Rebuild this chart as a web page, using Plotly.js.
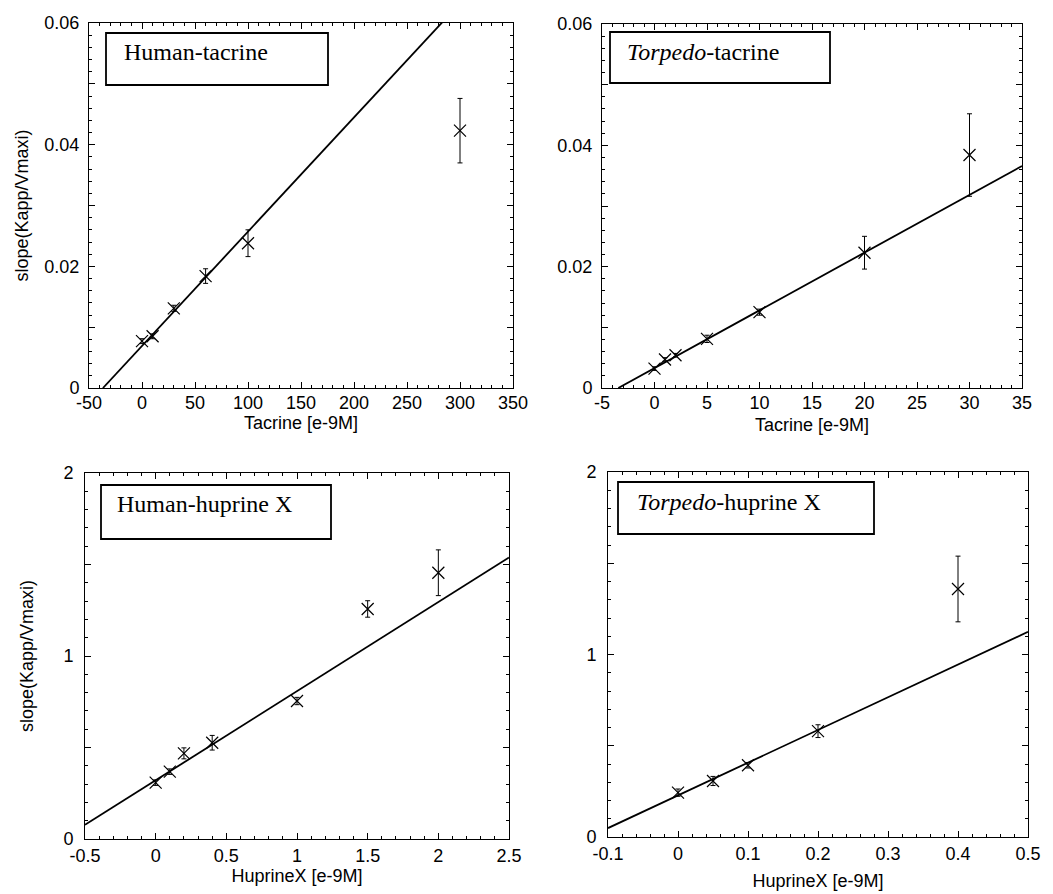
<!DOCTYPE html>
<html><head><meta charset="utf-8">
<script src="https://cdn.plot.ly/plotly-3.0.1.min.js"></script>
<style>html,body{margin:0;padding:0;background:#fff}</style>
</head><body><div id="chart" style="width:1053px;height:894px"></div>
<script>
// ---- Data ----
// Panel 1: Human-tacrine
const humTacX = [0, 10, 30, 60, 100, 300];
const humTacY = [0.0077, 0.0085, 0.0131, 0.0184, 0.0238, 0.0423];
const humTacErr = [0.0004, 0.0004, 0.0005, 0.0012, 0.0022, 0.0053];
// Panel 2: Torpedo-tacrine
const torTacX = [0, 1, 2, 5, 10, 20, 30];
const torTacY = [0.0032, 0.0047, 0.0054, 0.0081, 0.0125, 0.0223, 0.0384];
const torTacErr = [0.0003, 0.0003, 0.0003, 0.0006, 0.0005, 0.0027, 0.0068];
// Panel 3: Human-huprine X
const humHupX = [0, 0.1, 0.2, 0.4, 1, 1.5, 2];
const humHupY = [0.308, 0.368, 0.468, 0.526, 0.754, 1.257, 1.455];
const humHupErr = [0.015, 0.015, 0.03, 0.04, 0.02, 0.045, 0.125];
// Panel 4: Torpedo-huprine X
const torHupX = [0, 0.05, 0.1, 0.2, 0.4];
const torHupY = [0.243, 0.307, 0.393, 0.580, 1.359];
const torHupErr = [0.02, 0.025, 0.015, 0.035, 0.18];

// Linear fits (slope, intercept) per panel
const fitSlope = [1.878e-4, 9.52e-4, 0.487, 1.793];
const fitIntercept = [0.00692, 0.00328, 0.321, 0.228];

// Text
const panelTitles = ['Human-tacrine', '<i>Torpedo</i>-tacrine', 'Human-huprine X', '<i>Torpedo</i>-huprine X'];
const xTitles = ['Tacrine [e-9M]', 'Tacrine [e-9M]', 'HuprineX [e-9M]', 'HuprineX [e-9M]'];
const yTitle = 'slope(Kapp/Vmaxi)';

// Axis ranges and ticks
const xRanges = [[-50, 350], [-5, 35], [-0.5, 2.5], [-0.1, 0.5]];
const yRanges = [[0, 0.06], [0, 0.06], [0, 2], [0, 2]];
const xTickVals = [
  [-50, 0, 50, 100, 150, 200, 250, 300, 350],
  [-5, 0, 5, 10, 15, 20, 25, 30, 35],
  [-0.5, 0, 0.5, 1, 1.5, 2, 2.5],
  [-0.1, 0, 0.1, 0.2, 0.3, 0.4, 0.5]
];
const xTickText = [
  ['-50', '0', '50', '100', '150', '200', '250', '300', '350'],
  ['-5', '0', '5', '10', '15', '20', '25', '30', '35'],
  ['-0.5', '0', '0.5', '1', '1.5', '2', '2.5'],
  ['-0.1', '0', '0.1', '0.2', '0.3', '0.4', '0.5']
];
const yTickValsTac = [0, 0.01, 0.02, 0.03, 0.04, 0.05, 0.06];
const yTickTextTac = ['0', '', '0.02', '', '0.04', '', '0.06'];
const yTickValsHup = [0, 0.5, 1, 1.5, 2];
const yTickTextHup = ['0', '', '1', '', '2'];
const xMinor = [10, 1, 0.1, 0.02];
const yMinor = [0.002, 0.002, 0.1, 0.1];

// ---- Layout geometry (pixels in a 1053x894 page) ----
const W = 1053, H = 894;
const boxes = [ // [left, right, top, bottom] of each plot frame in px
  [89, 513, 23, 388],
  [602, 1022, 24, 388],
  [85, 509, 473, 839],
  [608, 1028, 472, 837]
];
const xStandoff = [4, 6, 0, 11];
const xLabelShift = [-2, -2, 0, 0];
const yLabelShift = [5, 5, 7, 7];
const yTitleStandoff = [11, 0, 25, 0];

const sets = [
  [humTacX, humTacY, humTacErr],
  [torTacX, torTacY, torTacErr],
  [humHupX, humHupY, humHupErr],
  [torHupX, torHupY, torHupErr]
];

const traces = [];
const layout = {
  width: W, height: H,
  margin: {l: 0, r: 0, t: 0, b: 0},
  paper_bgcolor: 'white', plot_bgcolor: 'white',
  showlegend: false, hovermode: false,
  shapes: [], annotations: []
};

const tickFont = {family: 'Liberation Sans, Arial, sans-serif', size: 18, color: 'black'};
const titleFont = {family: 'Liberation Sans, Arial, sans-serif', size: 18, color: 'black'};

// label box geometry: [left, right, top, bottom] px, text left px, text centre y px
const labelBoxes = [
  [106, 328, 33, 85, 122, 52],
  [610, 830, 32, 83, 625, 52],
  [101, 331, 485, 539, 115, 504],
  [618, 874, 482, 534, 635, 502]
];

for (let i = 0; i < 4; i++) {
  const n = i === 0 ? '' : String(i + 1);
  const xa = 'x' + n, ya = 'y' + n;
  const [L, R, T, B] = boxes[i];
  const [xs, ys, es] = sets[i];

  // fit line
  const xStart = Math.max(xRanges[i][0], -fitIntercept[i] / fitSlope[i]);
  const xEnd = xRanges[i][1];
  traces.push({
    x: [xStart, xEnd],
    y: [fitSlope[i] * xStart + fitIntercept[i], fitSlope[i] * xEnd + fitIntercept[i]],
    xaxis: xa, yaxis: ya, mode: 'lines',
    line: {color: 'black', width: 1.8}
  });
  // data with error bars
  traces.push({
    x: xs, y: ys, xaxis: xa, yaxis: ya, mode: 'markers',
    marker: {symbol: 'x-thin-open', size: 12, color: 'black', line: {color: 'black', width: 1.2}},
    error_y: {type: 'data', array: es, visible: true, color: 'black', thickness: 1, width: 2.5},
    cliponaxis: false
  });

  const common = {
    showline: true, linecolor: 'black', linewidth: 1, mirror: 'ticks',
    ticks: 'inside', ticklen: 6, tickwidth: 1, tickcolor: 'black',
    showgrid: false, zeroline: false, fixedrange: true,
    tickfont: tickFont, tickmode: 'array'
  };
  layout['xaxis' + n] = Object.assign({}, common, {
    domain: [L / W, R / W], anchor: ya, range: xRanges[i],
    tickvals: xTickVals[i], ticktext: xTickText[i],
    ticklabelstandoff: xLabelShift[i],
    minor: {ticks: 'inside', ticklen: 3, tickcolor: 'black', tickwidth: 1, tickmode: 'linear', tick0: 0, dtick: xMinor[i], showgrid: false},
    title: {text: xTitles[i], font: titleFont, standoff: xStandoff[i]}
  });
  const isTac = i < 2;
  layout['yaxis' + n] = Object.assign({}, common, {
    domain: [1 - B / H, 1 - T / H], anchor: xa, range: yRanges[i],
    tickvals: isTac ? yTickValsTac : yTickValsHup,
    ticktext: isTac ? yTickTextTac : yTickTextHup,
    ticklabelstandoff: yLabelShift[i],
    minor: {ticks: 'inside', ticklen: 3, tickcolor: 'black', tickwidth: 1, tickmode: 'linear', tick0: 0, dtick: yMinor[i], showgrid: false},
    title: (i % 2 === 0) ? {text: yTitle, font: titleFont, standoff: yTitleStandoff[i]} : {text: ''}
  });

  // label box
  const [bl, br, bt, bb, tl, tc] = labelBoxes[i];
  layout.shapes.push({
    type: 'rect', xref: xa + ' domain', yref: ya + ' domain',
    x0: (bl - L) / (R - L), x1: (br - L) / (R - L),
    y0: (B - bb) / (B - T), y1: (B - bt) / (B - T),
    line: {color: 'black', width: 1.8}, fillcolor: 'white', layer: 'above'
  });
  layout.annotations.push({
    xref: xa + ' domain', yref: ya + ' domain',
    x: (tl - L) / (R - L), y: (B - tc) / (B - T),
    xanchor: 'left', yanchor: 'middle', showarrow: false,
    text: panelTitles[i],
    font: {family: 'Liberation Serif, Times New Roman, serif', size: 24, color: 'black'}
  });
}

Plotly.newPlot('chart', traces, layout, {staticPlot: true, displayModeBar: false});
</script>
</body></html>
